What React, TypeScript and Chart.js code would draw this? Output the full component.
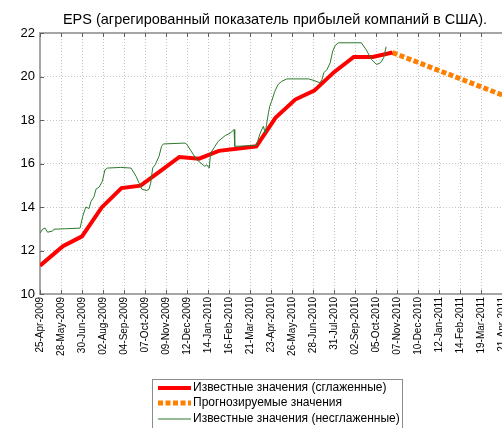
import React, { useEffect, useRef } from "react";
import { Chart, registerables } from "chart.js";

Chart.register(...registerables);

const TITLE = "EPS (агрегированный показатель прибылей компаний в США).";
const FONT = "'Liberation Sans', Arial, sans-serif";

// x values are days since 25-Apr-2009
const TICK_STEP_DAYS = 33;
const X_MAX_DAYS = 726;

const xTickLabels = [
  "25-Apr-2009", "28-May-2009", "30-Jun-2009", "02-Aug-2009", "04-Sep-2009",
  "07-Oct-2009", "09-Nov-2009", "12-Dec-2009", "14-Jan-2010", "16-Feb-2010",
  "21-Mar-2010", "23-Apr-2010", "26-May-2010", "28-Jun-2010", "31-Jul-2010",
  "02-Sep-2010", "05-Oct-2010", "07-Nov-2010", "10-Dec-2010", "12-Jan-2011",
  "14-Feb-2011", "19-Mar-2011", "21-Apr-2011",
];

const yTickValues = [10, 12, 14, 16, 18, 20, 22];

const seriesLabels = [
  "Известные значения (сглаженные)",
  "Прогнозируемые значения",
  "Известные значения (несглаженные)",
];

const smoothedDays = [0, 36, 66, 97, 128, 158, 189, 219, 250, 281, 309, 340, 370, 401, 431, 462, 493, 523, 554];
const smoothedValues = [11.3, 12.2, 12.65, 13.98, 14.87, 14.98, 15.65, 16.3, 16.22, 16.58, 16.68, 16.79, 18.1, 18.94, 19.35, 20.2, 20.9, 20.9, 21.1];

const forecastDays = [554, 584, 615, 646, 674, 705, 735];
const forecastValues = [21.1, 20.76, 20.41, 20.06, 19.74, 19.39, 19.05];

const rawDays = [
  0, 4, 8, 12, 20, 22, 40, 63, 67, 72, 77, 80, 85, 88, 93, 98, 102, 106, 127, 143,
  151, 160, 167, 171, 174, 177, 181, 187, 191, 194, 228, 231, 246, 259, 262, 266, 268, 275, 280, 291,
  299, 305, 306, 340, 346, 351, 354, 356, 359, 361, 364, 369, 374, 380, 388, 422, 429, 440, 443, 446,
  451, 456, 460, 464, 469, 505, 513, 521, 529, 535, 540, 544,
];
const rawValues = [
  12.8, 12.98, 13.03, 12.84, 12.9, 12.98, 13.0, 13.03, 13.56, 14.0, 13.93, 14.25, 14.48, 14.82, 14.92, 15.18, 15.71, 15.79, 15.82, 15.79,
  15.41, 14.82, 14.76, 14.8, 15.1, 15.79, 15.94, 16.33, 16.79, 16.9, 16.94, 16.87, 16.18, 15.87, 15.94, 15.79, 16.48, 16.79, 17.02, 17.28,
  17.4, 17.56, 16.79, 16.83, 17.4, 17.71, 17.4, 17.79, 18.33, 18.63, 18.86, 19.32, 19.63, 19.78, 19.89, 19.89, 19.83, 19.71, 19.86, 20.17,
  20.32, 20.63, 21.17, 21.43, 21.55, 21.55, 21.21, 20.78, 20.55, 20.63, 20.86, 21.37,
];

const COLORS = {
  smoothed: "#ff0000",
  forecast: "#ff8000",
  raw: "#2d7a2d",
  grid: "#c4c4c4",
  axis: "#a6a6a6",
  tick: "#606060",
  legendBorder: "#8c8c8c",
};

const toPoints = (xs: number[], ys: number[]) => xs.map((x, i) => ({ x, y: ys[i] }));

const decorPlugin = {
  id: "decor",
  afterDraw(chart: any) {
    const { ctx, chartArea } = chart;
    const { left, right, top, bottom } = chartArea;
    const xs = chart.scales.x;
    const ys = chart.scales.y;
    ctx.save();
    // top border
    ctx.strokeStyle = COLORS.axis;
    ctx.lineWidth = 2;
    ctx.beginPath();
    ctx.moveTo(left, top);
    ctx.lineTo(right, top);
    ctx.stroke();
    // inward tick marks
    ctx.strokeStyle = COLORS.tick;
    ctx.lineWidth = 1;
    ctx.beginPath();
    xs.ticks.forEach((t: any) => {
      const px = Math.round(xs.getPixelForValue(t.value)) + 0.5;
      ctx.moveTo(px, top);
      ctx.lineTo(px, top + 4);
      ctx.moveTo(px, bottom);
      ctx.lineTo(px, bottom - 4);
    });
    ys.ticks.forEach((t: any) => {
      const py = Math.round(ys.getPixelForValue(t.value)) + 0.5;
      ctx.moveTo(left, py);
      ctx.lineTo(left + 4, py);
    });
    ctx.stroke();

    // title
    ctx.fillStyle = "#000";
    ctx.font = `14.5px ${FONT}`;
    ctx.textAlign = "center";
    ctx.textBaseline = "alphabetic";
    ctx.fillText(TITLE, 275, 24);

    // legend
    const bx = 152, by = 379, bw = 250, bh = 60;
    ctx.fillStyle = "#fff";
    ctx.fillRect(bx, by, bw, bh);
    ctx.strokeStyle = COLORS.legendBorder;
    ctx.lineWidth = 1;
    ctx.strokeRect(bx + 0.5, by + 0.5, bw, bh);
    const rows = [388, 403, 419];
    chart.data.datasets.forEach((ds: any, i: number) => {
      const y = rows[i];
      ctx.save();
      ctx.strokeStyle = ds.borderColor;
      ctx.lineWidth = ds.borderWidth;
      ctx.setLineDash(ds.borderDash || []);
      ctx.lineCap = "butt";
      ctx.beginPath();
      ctx.moveTo(158, y);
      ctx.lineTo(191, y);
      ctx.stroke();
      ctx.restore();
      ctx.fillStyle = "#000";
      ctx.font = `12px ${FONT}`;
      ctx.textAlign = "left";
      ctx.textBaseline = "middle";
      ctx.fillText(ds.label, 193, y);
    });
    ctx.restore();
  },
};

export default function App() {
  const ref = useRef<HTMLCanvasElement | null>(null);

  useEffect(() => {
    if (!ref.current) return;
    const gridCommon = { color: COLORS.grid, drawTicks: false, lineWidth: 1 };
    const borderCommon = { display: true, color: COLORS.axis, width: 2, dash: [1, 2] };
    const chart = new Chart(ref.current, {
      type: "line",
      data: {
        datasets: [
          {
            label: seriesLabels[0],
            data: toPoints(smoothedDays, smoothedValues),
            borderColor: COLORS.smoothed,
            backgroundColor: COLORS.smoothed,
            borderWidth: 4,
            pointRadius: 0,
            tension: 0,
            order: 1,
          },
          {
            label: seriesLabels[1],
            data: toPoints(forecastDays, forecastValues),
            borderColor: COLORS.forecast,
            backgroundColor: COLORS.forecast,
            borderWidth: 5,
            borderDash: [5, 2.5],
            pointRadius: 0,
            tension: 0,
            order: 1,
          },
          {
            label: seriesLabels[2],
            data: toPoints(rawDays, rawValues),
            borderColor: COLORS.raw,
            backgroundColor: COLORS.raw,
            borderWidth: 1,
            pointRadius: 0,
            tension: 0,
            order: 0,
          },
        ],
      },
      options: {
        responsive: false,
        animation: false,
        layout: { padding: { top: 33, left: 0, right: 0, bottom: 0 } },
        plugins: {
          legend: { display: false },
          title: { display: false },
          tooltip: { enabled: false },
        },
        scales: {
          x: {
            type: "linear",
            min: 0,
            max: X_MAX_DAYS,
            afterBuildTicks: (s: any) => {
              s.ticks = xTickLabels.map((_, i) => ({ value: i * TICK_STEP_DAYS }));
            },
            afterFit: (s: any) => {
              s.height = 134;
              s.paddingLeft = 0;
              s.paddingRight = 0;
            },
            ticks: {
              autoSkip: false,
              maxRotation: 90,
              minRotation: 90,
              padding: 3,
              color: "#000",
              font: { family: FONT, size: 10 },
              callback: (_v: any, i: number) => xTickLabels[i],
            },
            grid: gridCommon,
            border: borderCommon,
          },
          y: {
            min: yTickValues[0],
            max: yTickValues[yTickValues.length - 1],
            afterBuildTicks: (s: any) => {
              s.ticks = yTickValues.map((v) => ({ value: v }));
            },
            afterFit: (s: any) => {
              s.width = 40;
            },
            ticks: {
              padding: 5,
              color: "#000",
              font: { family: FONT, size: 13 },
            },
            grid: gridCommon,
            border: borderCommon,
          },
        },
      },
      plugins: [decorPlugin],
    } as any);
    return () => chart.destroy();
  }, []);

  return (
    <div style={{ position: "absolute", left: 0, top: 0, width: 502, height: 428, background: "#fff" }}>
      <canvas ref={ref} width={502} height={428} style={{ display: "block" }} />
    </div>
  );
}
